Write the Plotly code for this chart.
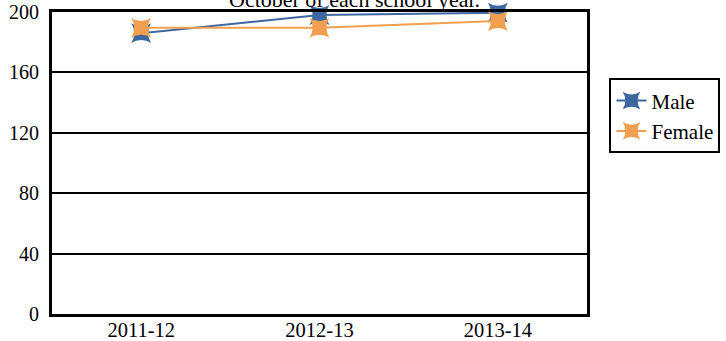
import plotly.graph_objects as go

categories = ["2011-12", "2012-13", "2013-14"]
male = [186, 198, 199.5]
female = [189.5, 189.5, 194]
y_ticks = [0, 40, 80, 120, 160, 200]

font_family = "Liberation Serif"

fig = go.Figure()
fig.add_trace(go.Scatter(
    x=categories, y=male, name="Male", mode="lines+markers",
    line=dict(color="#3D67A0", width=2),
    marker=dict(symbol="star-square", size=18, color="#3D67A0"),
    cliponaxis=False,
))
fig.add_trace(go.Scatter(
    x=categories, y=female, name="Female", mode="lines+markers",
    line=dict(color="#F2A04F", width=2),
    marker=dict(symbol="star-square", size=18, color="#F2A04F"),
    cliponaxis=False,
))

fig.add_annotation(
    text="October of each school year.", xref="paper", yref="paper",
    x=0.566, y=1, xanchor="center", yanchor="middle", yshift=13, showarrow=False,
    font=dict(family=font_family, size=22, color="black"),
)

fig.update_layout(
    width=726, height=341,
    margin=dict(l=52, r=139, t=12, b=27, autoexpand=False),
    paper_bgcolor="white", plot_bgcolor="white",
    font=dict(family=font_family, size=21, color="black"),
    showlegend=True,
    legend=dict(
        x=1.042, y=0.78, xanchor="left", yanchor="top",
        bordercolor="black", borderwidth=2, bgcolor="white",
        font=dict(family=font_family, size=21, color="black"),
        itemwidth=30, tracegroupgap=0,
    ),
    xaxis=dict(
        type="category", range=[-0.5, 2.5], showgrid=False,
        showline=True, linecolor="black", linewidth=3, mirror=True,
        ticks="", tickfont=dict(size=20.5), zeroline=False, automargin=False,
        ticklabelstandoff=-5,
    ),
    yaxis=dict(
        range=[0, 200], tickvals=y_ticks, showgrid=True, gridcolor="black",
        gridwidth=2, showline=True, linecolor="black", linewidth=3, mirror=True,
        ticks="", tickfont=dict(size=20), zeroline=False, ticklabelstandoff=6,
        automargin=False,
    ),
)

fig.write_html(
    "out.html",
    config={"displayModeBar": False},
    post_script="document.body.style.margin='0';",
)
